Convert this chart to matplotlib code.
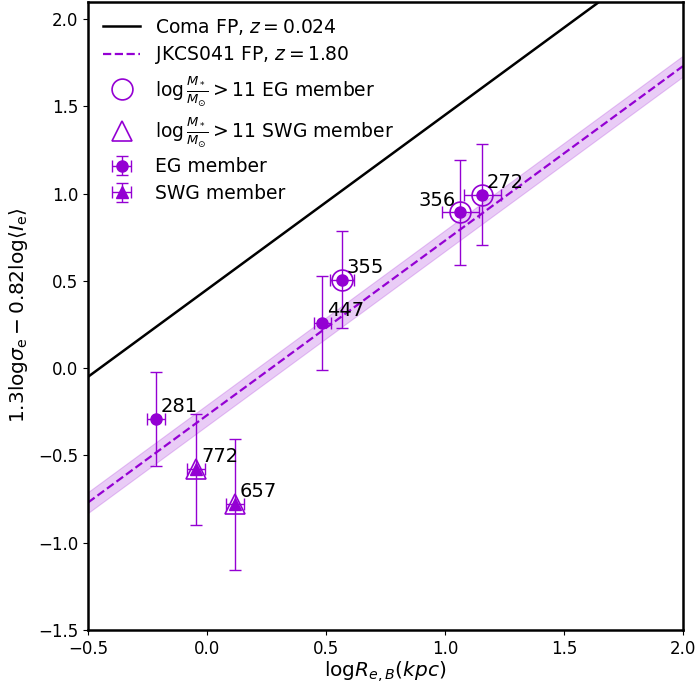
import numpy as np
import matplotlib
matplotlib.use("Agg")
import matplotlib.pyplot as plt

# JKCS041 members: log Re (kpc) and 1.3 log sigma - 0.82 log <Ie>
eg_ids = ["281", "447", "355", "356", "272"]
eg_x = [-0.214, 0.485, 0.566, 1.064, 1.157]
eg_y = [-0.29, 0.257, 0.507, 0.893, 0.994]
eg_xerr = [0.037, 0.036, 0.05, 0.078, 0.078]
eg_yerr = [0.27, 0.27, 0.28, 0.30, 0.29]
eg_massive = [False, False, True, True, True]

swg_ids = ["772", "657"]
swg_x = [-0.045, 0.118]
swg_y = [-0.58, -0.78]
swg_xerr = [0.038, 0.038]
swg_yerr = [0.32, 0.375]
swg_massive = [True, True]

# fundamental plane relations: y = slope * logRe + zero point
coma_slope, coma_zp = 1.0, 0.45
jk_slope, jk_zp, jk_err = 1.0, -0.27, 0.06

col = "darkviolet"

fig = plt.figure(figsize=(6.96, 6.85), dpi=100)
ax = fig.add_axes([0.1264, 0.0803, 0.8549, 0.9175])

xx = np.linspace(-0.5, 2.0, 200)
ax.plot(xx, coma_slope * xx + coma_zp, color="black", lw=1.8,
        label=r"Coma FP, $z=0.024$")
ax.plot(xx, jk_slope * xx + jk_zp, color=col, ls="--", lw=1.6,
        label=r"JKCS041 FP, $z=1.80$")
ax.fill_between(xx, jk_slope * xx + jk_zp - jk_err, jk_slope * xx + jk_zp + jk_err,
                color=col, alpha=0.2, lw=0.8)

big_eg = [i for i, m in enumerate(eg_massive) if m]
big_swg = [i for i, m in enumerate(swg_massive) if m]
ax.plot([eg_x[i] for i in big_eg], [eg_y[i] for i in big_eg], "o", ms=15,
        mfc="none", mec=col, mew=1.2, ls="none",
        label=r"$\log\frac{M_*}{M_{\odot}}>11$ EG member")
ax.plot([swg_x[i] for i in big_swg], [swg_y[i] for i in big_swg], "^", ms=15,
        mfc="none", mec=col, mew=1.2, ls="none",
        label=r"$\log\frac{M_*}{M_{\odot}}>11$ SWG member")

ax.errorbar(eg_x, eg_y, xerr=eg_xerr, yerr=eg_yerr, fmt="o", ms=8, color=col,
            elinewidth=1, capsize=4, label="EG member")
ax.errorbar(swg_x, swg_y, xerr=swg_xerr, yerr=swg_yerr, fmt="^", ms=8, color=col,
            elinewidth=1, capsize=4, label="SWG member")

for name, x, y in zip(eg_ids + swg_ids, eg_x + swg_x, eg_y + swg_y):
    if name == "356":
        ax.text(x - 0.02, y + 0.035, name, ha="right", fontsize=14)
    else:
        ax.text(x + 0.02, y + 0.04, name, ha="left", fontsize=14)

ax.set_xlim(-0.5, 2.0)
ax.set_ylim(-1.5, 2.1)
ax.set_xticks([-0.5, 0.0, 0.5, 1.0, 1.5, 2.0])
ax.set_yticks([-1.5, -1.0, -0.5, 0.0, 0.5, 1.0, 1.5, 2.0])
ax.tick_params(labelsize=12)
for sp in ax.spines.values():
    sp.set_linewidth(1.8)

ax.set_xlabel(r"$\mathrm{log}R_{e,B}(kpc)$", fontsize=14.5, labelpad=1)
ax.set_ylabel(r"$1.3\mathrm{log}\sigma_\mathrm{e} - 0.82\mathrm{log}\langle I_\mathrm{e}\rangle$",
              fontsize=14.5, labelpad=6)
ax.legend(loc="upper left", frameon=False, fontsize=13.5, labelspacing=0.42,
          borderaxespad=0.4)

fig.savefig("out.png", dpi=100)
